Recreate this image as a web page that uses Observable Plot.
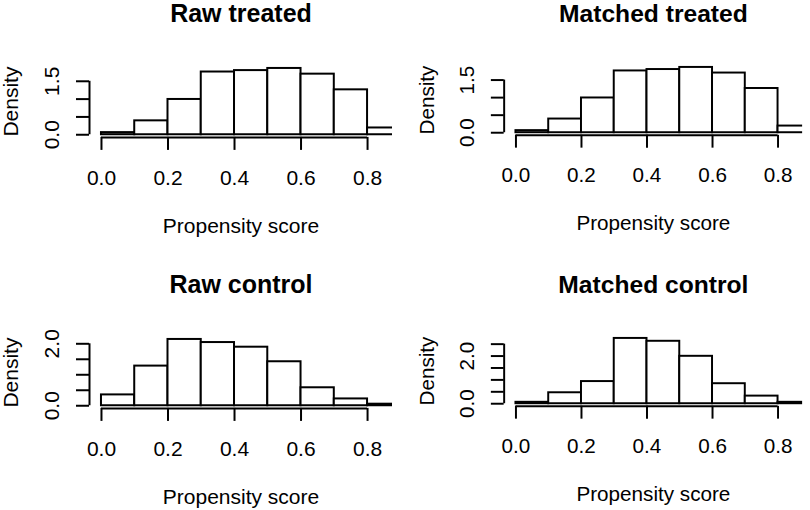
<!DOCTYPE html>
<html>
<head>
<meta charset="utf-8">
<script src="https://cdn.jsdelivr.net/npm/d3@7"></script>
<script src="https://cdn.jsdelivr.net/npm/@observablehq/plot@0.6"></script>
<style>
  html, body { margin: 0; padding: 0; background: #fff; }
  #wrap { position: relative; width: 810px; height: 510px; overflow: hidden; background: #fff; }
  .panel { position: absolute; }
</style>
</head>
<body>
<div id="wrap"></div>
<script>
// ---- data ----
const binStarts = [0.0, 0.1, 0.2, 0.3, 0.4, 0.5, 0.6, 0.7, 0.8];
const binWidth = 0.1;
const rawTreated     = [0.06, 0.39, 0.99, 1.76, 1.80, 1.86, 1.70, 1.26, 0.19];
const matchedTreated = [0.06, 0.39, 0.99, 1.76, 1.80, 1.86, 1.70, 1.26, 0.19];
const rawControl     = [0.35, 1.28, 2.14, 2.04, 1.89, 1.42, 0.58, 0.22, 0.05];
const matchedControl = [0.06, 0.46, 0.93, 2.74, 2.62, 1.99, 0.84, 0.32, 0.06];
const titles = ["Raw treated", "Matched treated", "Raw control", "Matched control"];
const xTicks = [0.0, 0.2, 0.4, 0.6, 0.8];
const yTicksTreated = [0, 0.5, 1.0, 1.5];
const yTicksRawControl = [0, 0.5, 1.0, 1.5, 2.0];
const yTicksMatchedControl = [0, 0.5, 1.0, 1.5, 2.0, 2.5];
const yLabelsTreated = [0, 1.5];
const yLabelsControl = [0, 2.0];
const xLabel = "Propensity score";
const yLabel = "Density";

const panels = [
  {title: titles[0], values: rawTreated, yTicks: yTicksTreated, yLabels: yLabelsTreated, left: 0, top: 0},
  {title: titles[1], values: matchedTreated, yTicks: yTicksTreated, yLabels: yLabelsTreated, left: 416, top: 0},
  {title: titles[2], values: rawControl, yTicks: yTicksRawControl, yLabels: yLabelsControl, left: 0, top: 271},
  {title: titles[3], values: matchedControl, yTicks: yTicksMatchedControl, yLabels: yLabelsControl, left: 416, top: 271}
];

const fmt = d3.format(".1f");
const font = "'Liberation Sans', Arial, Helvetica, sans-serif";
const wrap = document.getElementById("wrap");

for (const p of panels) {
  const bins = binStarts.map((s, i) => ({x1: s, x2: s + binWidth, y: p.values[i]}));
  const ymax = d3.max(p.values);
  const yDomain = [-0.04 * ymax, 1.04 * ymax];
  const xDomain = [-0.036, 0.875];
  const chart = Plot.plot({
    width: 400,
    height: 255,
    marginLeft: 89,
    marginRight: 8,
    marginTop: 65.3,
    marginBottom: 118.1,
    style: {fontFamily: font, background: "transparent", overflow: "visible"},
    x: {domain: xDomain, axis: null},
    y: {domain: yDomain, axis: null},
    marks: [
      Plot.rectY(bins, {x1: "x1", x2: "x2", y: "y", fill: "white", stroke: "black", strokeWidth: 2, clip: true}),
      // x axis
      Plot.ruleY([yDomain[0]], {x1: xTicks[0], x2: xTicks[xTicks.length - 1], stroke: "black", strokeWidth: 2}),
      Plot.axisX({ticks: xTicks, tickSize: 13, tickFormat: () => "", label: null, strokeWidth: 2, stroke: "black"}),
      Plot.text(xTicks, {x: d => d, frameAnchor: "bottom", dy: 40.5, text: d => fmt(d), fontSize: 21, fill: "black", lineAnchor: "middle"}),
      // y axis
      Plot.ruleX([xDomain[0]], {y1: p.yTicks[0], y2: p.yTicks[p.yTicks.length - 1], stroke: "black", strokeWidth: 2}),
      Plot.axisY({ticks: p.yTicks, tickSize: 13, tickFormat: () => "", label: null, strokeWidth: 2, stroke: "black"}),
      Plot.text(p.yLabels, {y: d => d, frameAnchor: "left", textAnchor: "middle", dx: -37.5, rotate: -90, text: d => fmt(d), fontSize: 21, fill: "black", lineAnchor: "middle"}),
      // labels
      Plot.text([yLabel], {frameAnchor: "left", textAnchor: "middle", dx: -77.8, rotate: -90, text: d => d, fontSize: 21, fill: "black", lineAnchor: "middle"}),
      Plot.text([xLabel], {frameAnchor: "bottom", dy: 89, text: d => d, fontSize: 21, fill: "black", lineAnchor: "middle"}),
      Plot.text([p.title], {frameAnchor: "top", dy: -51.5, text: d => d, fontSize: 25, fontWeight: "bold", fill: "black", lineAnchor: "middle"})
    ]
  });
  const div = document.createElement("div");
  div.className = "panel";
  div.style.left = p.left + "px";
  div.style.top = p.top + "px";
  div.appendChild(chart);
  wrap.appendChild(div);
}
</script>
</body>
</html>
